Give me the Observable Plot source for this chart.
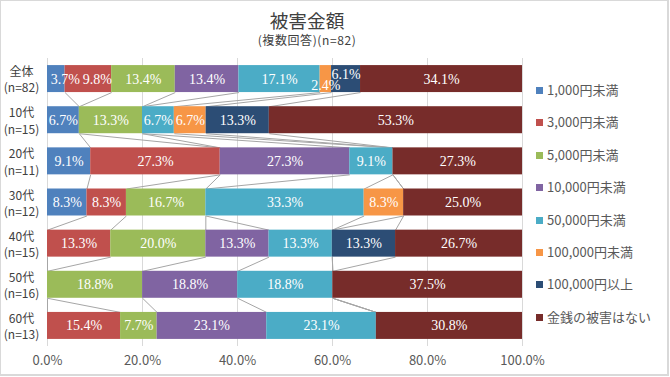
<!DOCTYPE html>
<html>
<head>
<meta charset="utf-8">
<script src="https://cdn.jsdelivr.net/npm/d3@7"></script>
<script src="https://cdn.jsdelivr.net/npm/@observablehq/plot@0.6"></script>
<style>
  html, body { margin: 0; padding: 0; background: #fff; }
  #wrap { position: relative; width: 670px; height: 377px; overflow: hidden; font-family: "Noto Sans CJK JP", sans-serif; }
  #border { position: absolute; left: 0; top: 0; width: 669px; height: 376px; box-sizing: border-box; border: 1px solid #d9d9d9; border-right-width: 2px; border-bottom-width: 2px; pointer-events: none; }
  #title { position: absolute; left: 0; width: 614px; top: 10px; text-align: center; font-size: 18.7px; line-height: 20px; color: #404040; }
  #subtitle { position: absolute; left: 0; width: 614px; top: 33px; text-align: center; font-size: 12px; line-height: 14px; color: #404040; letter-spacing: 0.6px; }
  #legend { position: absolute; left: 536px; top: 0; }
  .item { position: absolute; left: 0; white-space: nowrap; font-size: 13px; line-height: 16px; color: #595959; }
  .sw { display: inline-block; width: 7px; height: 7px; margin-right: 4px; vertical-align: 1px; }
  svg { position: absolute; left: 0; top: 0; }
</style>
</head>
<body>
<div id="wrap">
  <div id="title"></div>
  <div id="subtitle"></div>
  <div id="legend"></div>
  <div id="border"></div>
</div>
<script>
// ---- data ----
const titleText = "被害金額";
const subtitleText = "(複数回答)(n=82)";
const rows = ["全体", "10代", "20代", "30代", "40代", "50代", "60代"];
const rowN = ["(n=82)", "(n=15)", "(n=11)", "(n=12)", "(n=15)", "(n=16)", "(n=13)"];
const series = ["1,000円未満", "3,000円未満", "5,000円未満", "10,000円未満", "50,000円未満", "100,000円未満", "100,000円以上", "金銭の被害はない"];
const colors = ["#4F81BD", "#C0504D", "#9BBB59", "#8064A2", "#4BACC6", "#F79646", "#2C4D75", "#772C2A"];
const s1 = [3.7, 6.7, 9.1, 8.3, 0, 0, 0];
const s2 = [9.8, 0, 27.3, 8.3, 13.3, 0, 15.4];
const s3 = [13.4, 13.3, 0, 16.7, 20.0, 18.8, 7.7];
const s4 = [13.4, 0, 27.3, 0, 13.3, 18.8, 23.1];
const s5 = [17.1, 6.7, 9.1, 33.3, 13.3, 18.8, 23.1];
const s6 = [2.4, 6.7, 0, 8.3, 0, 0, 0];
const s7 = [6.1, 13.3, 0, 0, 13.3, 0, 0];
const s8 = [34.1, 53.3, 27.3, 25.0, 26.7, 37.5, 30.8];
const xTicks = [0, 0.2, 0.4, 0.6, 0.8, 1.0];

const seriesValues = [s1, s2, s3, s4, s5, s6, s7, s8];

// ---- build stacked (100%) segments ----
const segs = [];
const bounds = [];
rows.forEach((row, r) => {
  const vals = seriesValues.map(s => s[r]);
  const total = d3.sum(vals);
  const cum = Array.from(d3.cumsum(vals));
  bounds.push(cum.map(c => c / total));
  vals.forEach((v, i) => {
    segs.push({r, row, series: series[i], i, value: v, x1: (cum[i] - v) / total, x2: cum[i] / total});
  });
});

const H = 0.328;
const links = [];
for (let r = 0; r < rows.length - 1; r++) {
  for (let i = 0; i < series.length - 1; i++) {
    links.push({x1: bounds[r][i], y1: r + H, x2: bounds[r + 1][i], y2: r + 1 - H});
  }
}

// label nudges (pixel offsets) for crowded small segments, as in the original
const nudges = {"0-0": [9, 0], "0-1": [9, 0], "0-5": [0, 6], "0-6": [0, -4.5]};
const keyOf = d => d.r + "-" + d.i;
const labels = segs.filter(d => d.value > 0);
const groups = d3.groups(labels, d => JSON.stringify(nudges[keyOf(d)] || [0, 0]));

const labelMarks = groups.map(([k, data]) => {
  const [dx, dy] = JSON.parse(k);
  return Plot.text(data, {
    x: d => (d.x1 + d.x2) / 2, y: "r", dx, dy, text: d => d.value.toFixed(1) + "%",
    fill: "white", fontSize: 14, fontFamily: "'Liberation Serif', serif"
  });
});

const plot = Plot.plot({
  width: 670,
  height: 377,
  marginTop: 58,
  marginBottom: 31,
  marginLeft: 47,
  marginRight: 148,
  style: {fontFamily: "'Noto Sans CJK JP', sans-serif", background: "transparent", overflow: "visible"},
  x: {domain: [0, 1]},
  y: {domain: [-0.5, rows.length - 0.5], reverse: true},
  color: {domain: series, range: colors},
  marks: [
    Plot.gridX(xTicks, {stroke: "#d9d9d9", strokeOpacity: 1, strokeWidth: 1}),
    Plot.link(links, {x1: "x1", y1: "y1", x2: "x2", y2: "y2", stroke: "#a6a6a6", strokeWidth: 1}),
    Plot.rectX(segs, {x1: "x1", x2: "x2", y1: d => d.r - H, y2: d => d.r + H, fill: "series"}),
    ...labelMarks,
    Plot.axisX({ticks: xTicks, tickFormat: d3.format(".1%"), tickSize: 0, tickPadding: 9, fontSize: 13, fill: "#595959", label: null}),
    Plot.axisY({ticks: d3.range(rows.length), tickFormat: i => rows[i] + "\n" + rowN[i], tickSize: 0, tickPadding: 26,
      textAnchor: "middle", lineHeight: 1.35, fontSize: 12, fill: "#404040", label: null})
  ]
});

const wrap = document.getElementById("wrap");
wrap.insertBefore(plot, wrap.firstChild);
document.getElementById("title").textContent = titleText;
document.getElementById("subtitle").textContent = subtitleText;

const legendTop = 90;
const legendStep = 32.4;
const legend = d3.select("#legend");
series.forEach((s, i) => {
  const item = legend.append("div").attr("class", "item").style("top", (legendTop + i * legendStep - 8) + "px");
  item.append("span").attr("class", "sw").style("background", colors[i]);
  item.append("span").text(s);
});
</script>
</body>
</html>
